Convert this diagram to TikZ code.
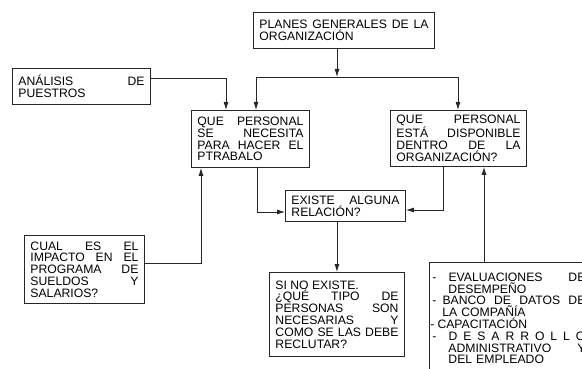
\documentclass[tikz,border=0pt]{standalone}
\usepackage{fontspec}
\setmainfont{Liberation Sans}
\usetikzlibrary{arrows.meta}

\tikzset{
    caja/.style={draw=black!85, line width=0.9pt, anchor=north west, inner xsep=6pt, inner ysep=3pt,
        align=justify, font=\fontsize{12.2}{11.8}\selectfont},
    flecha/.style={draw=black!85, line width=0.8pt, -{Latex[length=8pt,width=5pt]}},
    linea/.style={draw=black!85, line width=0.8pt}
}

\begin{document}
\begin{tikzpicture}[x=1pt, y=-1pt]
        \useasboundingbox (0,0) rectangle (582,369);
        \clip (0,0) rectangle (582,369);

        % --- Cajas ---
        \node[caja, text width=169pt, minimum height=36pt] (plan) at (253,12)
            {PLANES GENERALES DE LA\linebreak ORGANIZACIÓN};
        \node[caja, text width=126pt, minimum height=36pt] (analisis) at (12,68)
            {ANÁLISIS DE\linebreak PUESTROS};
        \node[caja, text width=106pt, minimum height=57pt] (necesita) at (191,110)
            {QUE PERSONAL\linebreak SE NECESITA\linebreak PARA HACER EL\linebreak PTRABALO};
        \node[caja, text width=124pt, minimum height=56pt] (disponible) at (390,110)
            {QUE PERSONAL\linebreak ESTÁ DISPONIBLE\linebreak DENTRO DE LA\linebreak ORGANIZACIÓN?};
        \node[caja, text width=108pt, minimum height=31pt] (relacion) at (285,190)
            {EXISTE ALGUNA\linebreak RELACIÓN?};
        \node[caja, text width=108pt, minimum height=68pt] (impacto) at (24,235)
            {CUAL ES EL\linebreak IMPACTO EN EL\linebreak PROGRAMA DE\linebreak SUELDOS Y\linebreak SALARIOS?};
        \node[caja, text width=123pt, minimum height=84pt] (tipo) at (269,272)
            {SI NO EXISTE.\\ ¿QUÉ TIPO DE\linebreak PERSONAS SON\linebreak NECESARIAS Y\linebreak COMO SE LAS DEBE\linebreak RECLUTAR?};
        \node[caja, inner xsep=3pt, text width=153pt, minimum height=112pt, align=left] (datos) at (429,262)
            {\hbox to\linewidth{-\hspace{12pt}EVALUACIONES\hfill DE}
             \hbox to\linewidth{\hspace*{16pt}DESEMPEÑO\hfill}
             \hbox to\linewidth{-\hspace{6pt}BANCO\hfill DE\hfill DATOS\hfill DE}
             \hbox to\linewidth{\hspace*{10pt}LA COMPAÑÍA\hfill}
             \hbox to\linewidth{\hspace*{-2pt}-\hspace{3pt}CAPACITACIÓN\hfill}
             \hbox to\linewidth{-\hspace{12pt}D\hfill E\hfill S\hfill A\hfill R\hfill R\hfill O\hfill L\hfill L\hfill O}
             \hbox to\linewidth{\hspace*{16pt}ADMINISTRATIVO\hfill Y}
             \hbox to\linewidth{\hspace*{16pt}DEL EMPLEADO\hfill}};

        % --- Puntos de quiebre ---
        \coordinate (reparto) at (337,77);
        \coordinate (repartoL) at (256,77);
        \coordinate (repartoR) at (458,77);
        \coordinate (puestos) at (226,78);
        \coordinate (codoA) at (257,212);
        \coordinate (codoB) at (443,210);
        \coordinate (codoC) at (201,263);
        \coordinate (subida) at (484,240);

        % --- Conectores ---
        \draw[flecha] (reparto |- plan.south) -- (reparto);
        \draw[linea] (repartoL) -- (repartoR);
        \draw[flecha] (repartoL) -- (repartoL |- necesita.north);
        \draw[flecha] (repartoR) -- (repartoR |- disponible.north);
        \draw[flecha] (analisis.east |- puestos) -- (puestos) -- (puestos |- necesita.north);
        \draw[flecha] (codoA |- necesita.south) -- (codoA) -- (codoA -| relacion.west);
        \draw[flecha] (codoB |- disponible.south) -- (codoB) -- (codoB -| relacion.east);
        \draw[flecha] (impacto.east |- codoC) -- (codoC) -- (codoC |- necesita.south);
        \draw[flecha] (tipo.north |- relacion.south) -- (tipo.north);
        \draw[flecha] (subida |- datos.north) -- (subida |- disponible.south);

    \end{tikzpicture}
\end{document}
